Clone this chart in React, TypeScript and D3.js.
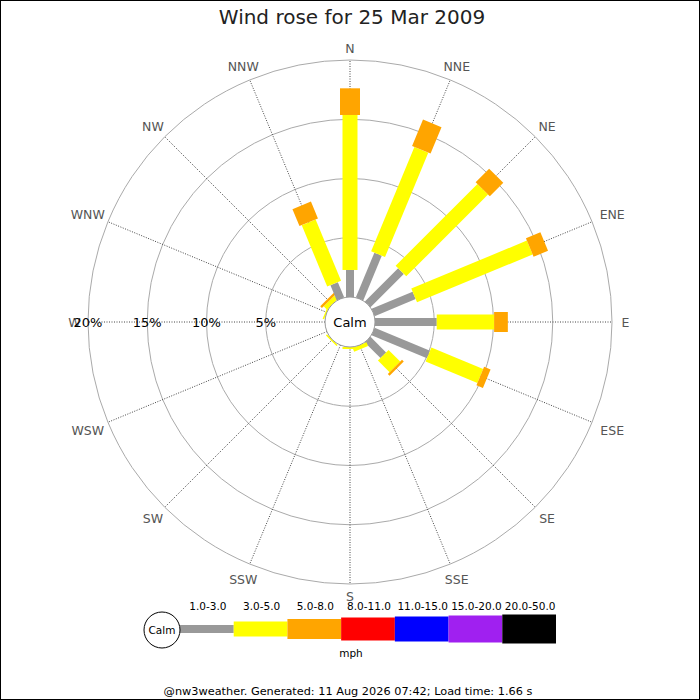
import React, { useEffect, useRef } from 'react';
import * as d3 from 'd3';

const directions = ['N', 'NNE', 'NE', 'ENE', 'E', 'ESE', 'SE', 'SSE', 'S', 'SSW', 'SW', 'WSW', 'W', 'WNW', 'NW', 'NNW'];
const speedRanges = ['1.0-3.0', '3.0-5.0', '5.0-8.0', '8.0-11.0', '11.0-15.0', '15.0-20.0', '20.0-50.0'];
const rangeColors = ['#999999', '#ffff00', '#ffa500', '#ff0000', '#0000ff', '#a020f0', '#000000'];

// % of the day per direction, one array per speed range (mph)
const pct_1_3 = [2.28, 4.08, 3.97, 3.75, 5.21, 5.06, 1.86, 0, 0, 0, 0, 0, 0, 0, 0, 1.39];
const pct_3_5 = [13.08, 9.54, 9.76, 10.56, 4.84, 4.73, 1.39, 0.34, 0.17, 0, 0.13, 0, 0, 0.13, 0.4, 5.61];
const pct_5_8 = [2.25, 2.41, 1.61, 1.32, 1.16, 0.59, 0.21, 0, 0, 0, 0, 0, 0, 0, 0.2, 1.54];
const pct_8_11 = [0, 0, 0, 0, 0, 0, 0, 0, 0, 0, 0, 0, 0, 0, 0, 0];
const pct_11_15 = [0, 0, 0, 0, 0, 0, 0, 0, 0, 0, 0, 0, 0, 0, 0, 0];
const pct_15_20 = [0, 0, 0, 0, 0, 0, 0, 0, 0, 0, 0, 0, 0, 0, 0, 0];
const pct_20_50 = [0, 0, 0, 0, 0, 0, 0, 0, 0, 0, 0, 0, 0, 0, 0, 0];

const ringTicks = [5, 10, 15, 20];

const title = 'Wind rose for 25 Mar 2009';
const footer = '@nw3weather. Generated: 11 Aug 2026 07:42; Load time: 1.66 s';

const FONT = 'DejaVu Sans, sans-serif';

const WindRose: React.FC = () => {
  const svgRef = useRef<SVGSVGElement>(null);

  useEffect(() => {
    if (!svgRef.current) return;
    const series = [pct_1_3, pct_3_5, pct_5_8, pct_8_11, pct_11_15, pct_15_20, pct_20_50];
    const barWidths = [8, 15, 20, 23, 25, 27, 29];

    const svg = d3.select(svgRef.current);
    svg.selectAll('*').remove();

    const width = 700;
    const height = 700;
    const cx = 350;
    const cy = 322;
    const calmR = 25;
    const outerR = 262;

    svg.attr('width', width).attr('height', height);

    svg.append('rect')
      .attr('width', width).attr('height', height)
      .attr('fill', '#fff');

    const r = d3.scaleLinear().domain([0, 20]).range([calmR, outerR]);
    const angle = d3.scaleLinear().domain([0, directions.length]).range([0, 360]);
    const rad = (deg: number) => (deg * Math.PI) / 180;

    // rings
    svg.append('g')
      .selectAll('circle')
      .data(ringTicks)
      .join('circle')
      .attr('cx', cx).attr('cy', cy)
      .attr('r', d => r(d))
      .attr('fill', 'none')
      .attr('stroke', '#aaa')
      .attr('stroke-width', 1);

    // spokes
    svg.append('g')
      .selectAll('line')
      .data(directions)
      .join('line')
      .attr('x1', (_, i) => cx + calmR * Math.sin(rad(angle(i))))
      .attr('y1', (_, i) => cy - calmR * Math.cos(rad(angle(i))))
      .attr('x2', (_, i) => cx + outerR * Math.sin(rad(angle(i))))
      .attr('y2', (_, i) => cy - outerR * Math.cos(rad(angle(i))))
      .attr('stroke', '#444')
      .attr('stroke-width', 1)
      .attr('stroke-dasharray', '1,1.5');

    // bars
    const bars = svg.append('g');
    directions.forEach((dir, i) => {
      const g = bars.append('g')
        .attr('transform', `translate(${cx},${cy}) rotate(${angle(i)})`);
      let cum = 0;
      series.forEach((s, j) => {
        const v = s[i];
        if (v > 0) {
          g.append('rect')
            .attr('x', -barWidths[j] / 2)
            .attr('y', -r(cum + v))
            .attr('width', barWidths[j])
            .attr('height', r(cum + v) - r(cum))
            .attr('fill', rangeColors[j]);
        }
        cum += v;
      });
    });

    // calm circle
    svg.append('circle')
      .attr('cx', cx).attr('cy', cy).attr('r', calmR)
      .attr('fill', '#fff')
      .attr('stroke', '#999');

    svg.append('text')
      .attr('x', cx).attr('y', cy)
      .attr('dy', '0.36em')
      .attr('text-anchor', 'middle')
      .style('font-family', FONT)
      .style('font-size', '13px')
      .attr('fill', '#000')
      .text('Calm');

    // direction labels
    const labelPos = (d: string, i: number) => {
      const a = rad(angle(i));
      const lr = 274 + (d.length - 1) * 4.5 * Math.abs(Math.sin(a));
      return [cx + lr * Math.sin(a) + 1.5 * Math.sin(a), cy - lr * Math.cos(a)];
    };
    svg.append('g')
      .selectAll('text')
      .data(directions)
      .join('text')
      .attr('x', (d, i) => labelPos(d, i)[0])
      .attr('y', (d, i) => labelPos(d, i)[1])
      .attr('dy', '0.42em')
      .attr('text-anchor', 'middle')
      .style('font-family', FONT)
      .style('font-size', '12.5px')
      .attr('fill', '#555')
      .text(d => d);

    // ring labels on the W axis
    svg.append('g')
      .selectAll('text')
      .data(ringTicks)
      .join('text')
      .attr('x', d => cx - r(d))
      .attr('y', cy)
      .attr('dy', '0.38em')
      .attr('text-anchor', 'middle')
      .style('font-family', FONT)
      .style('font-size', '13px')
      .attr('fill', '#000')
      .text(d => `${d}%`);

    // title
    svg.append('text')
      .attr('x', cx + 2).attr('y', 24)
      .attr('text-anchor', 'middle')
      .style('font-family', FONT)
      .style('font-size', '20px')
      .attr('fill', '#222')
      .text(title);

    // legend
    const lx = d3.scaleBand().domain(speedRanges).range([180, 556]);
    const ly = 629;
    const legend = svg.append('g');

    legend.selectAll('rect')
      .data(speedRanges)
      .join('rect')
      .attr('x', d => lx(d)!)
      .attr('y', (_, j) => ly - barWidths[j] / 2)
      .attr('width', lx.bandwidth())
      .attr('height', (_, j) => barWidths[j])
      .attr('fill', (_, j) => rangeColors[j]);

    legend.selectAll('text.rng')
      .data(speedRanges)
      .join('text')
      .attr('class', 'rng')
      .attr('x', d => lx(d)! + lx.bandwidth() / 2 + 1)
      .attr('y', 610)
      .attr('text-anchor', 'middle')
      .style('font-family', FONT)
      .style('font-size', '10.5px')
      .attr('fill', '#000')
      .text(d => d);

    legend.append('circle')
      .attr('cx', 162).attr('cy', 630).attr('r', 18)
      .attr('fill', '#fff')
      .attr('stroke', '#000');

    legend.append('text')
      .attr('x', 162).attr('y', 630)
      .attr('dy', '0.36em')
      .attr('text-anchor', 'middle')
      .style('font-family', FONT)
      .style('font-size', '10.5px')
      .text('Calm');

    legend.append('text')
      .attr('x', 351).attr('y', 657)
      .attr('text-anchor', 'middle')
      .style('font-family', FONT)
      .style('font-size', '10.5px')
      .text('mph');

    svg.append('text')
      .attr('x', 348).attr('y', 695)
      .attr('text-anchor', 'middle')
      .style('font-family', FONT)
      .style('font-size', '11.3px')
      .attr('fill', '#000')
      .text(footer);

    // frame
    svg.append('rect')
      .attr('x', 0.5).attr('y', 0.5)
      .attr('width', width - 1).attr('height', height - 1)
      .attr('fill', 'none')
      .attr('stroke', '#000');
  }, []);

  return <svg ref={svgRef} style={{ position: 'absolute', left: 0, top: 0, display: 'block' }}></svg>;
};

export default function App() {
  return <WindRose />;
}
